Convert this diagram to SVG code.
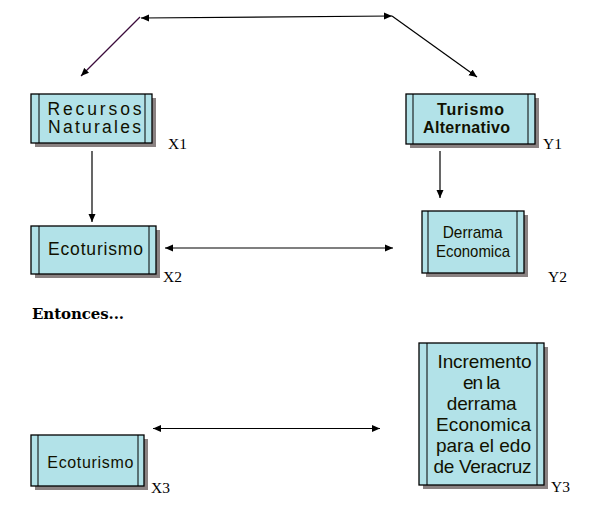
<svg xmlns="http://www.w3.org/2000/svg" width="605" height="517" viewBox="0 0 605 517">
<defs>
<marker id="ah" markerUnits="userSpaceOnUse" markerWidth="10" markerHeight="8" refX="8" refY="4" orient="auto-start-reverse"><path d="M0,0.5 L8,4 L0,7.5 z" fill="#000"/></marker>
</defs>
<style>
.box{fill:#b2e2e8;stroke:#000;stroke-width:1.3}
.shadow{fill:#8a8282}
.inner{stroke:#000;stroke-width:1}
.t{font-family:"Liberation Sans",Arial,sans-serif;fill:#111100;text-anchor:middle}
.lbl{font-family:"Liberation Serif","Times New Roman",serif;font-size:15.5px;fill:#000}
.conn{stroke:#000;stroke-width:1.2;fill:none}
</style>
<rect width="605" height="517" fill="#fff"/>
<g id="connectors">
<line class="conn" x1="141" y1="18" x2="392" y2="16" marker-start="url(#ah)" marker-end="url(#ah)"/>
<line class="conn" x1="140" y1="17" x2="81" y2="76" style="stroke:#3a0a3a" marker-end="url(#ah)"/>
<line class="conn" x1="392" y1="16" x2="477" y2="77" marker-end="url(#ah)"/>
<line class="conn" x1="92" y1="151" x2="92" y2="222" marker-end="url(#ah)"/>
<line class="conn" x1="440" y1="151" x2="440" y2="198" marker-end="url(#ah)"/>
<line class="conn" x1="165" y1="248" x2="393" y2="248" marker-start="url(#ah)" marker-end="url(#ah)"/>
<line class="conn" x1="153" y1="428.5" x2="380" y2="428.5" marker-start="url(#ah)" marker-end="url(#ah)"/>
</g>
<g id="X1">
<rect class="shadow" x="35" y="98" width="121" height="49"/>
<rect class="box" x="31" y="94" width="121" height="49"/>
<line class="inner" x1="39" y1="94" x2="39" y2="143"/>
<line class="inner" x1="145" y1="94" x2="145" y2="143"/>
<text class="t" x="94.5" y="114.5" font-size="17.5" textLength="94" lengthAdjust="spacing">Recursos</text>
<text class="t" x="94.5" y="133" font-size="17.5" textLength="93" lengthAdjust="spacing">Naturales</text>
<text class="lbl" x="168" y="149">X1</text>
</g>
<g id="Y1">
<rect class="shadow" x="410" y="98" width="129" height="50"/>
<rect class="box" x="406" y="94" width="129" height="50"/>
<line class="inner" x1="413" y1="94" x2="413" y2="144"/>
<line class="inner" x1="528" y1="94" x2="528" y2="144"/>
<text class="t" x="470.5" y="114.5" font-size="16" font-weight="bold" textLength="67" lengthAdjust="spacing">Turismo</text>
<text class="t" x="466.5" y="133" font-size="16" font-weight="bold" textLength="87" lengthAdjust="spacing">Alternativo</text>
<text class="lbl" x="543" y="149">Y1</text>
</g>
<g id="X2">
<rect class="shadow" x="35" y="230" width="125" height="48"/>
<rect class="box" x="31" y="226" width="125" height="48"/>
<line class="inner" x1="39" y1="226" x2="39" y2="274"/>
<line class="inner" x1="149" y1="226" x2="149" y2="274"/>
<text class="t" x="95.5" y="255" font-size="17.5" textLength="95" lengthAdjust="spacing">Ecoturismo</text>
<text class="lbl" x="163" y="282">X2</text>
</g>
<g id="Y2">
<rect class="shadow" x="426" y="215" width="102" height="62"/>
<rect class="box" x="422" y="211" width="102" height="62"/>
<line class="inner" x1="428" y1="211" x2="428" y2="273"/>
<line class="inner" x1="517" y1="211" x2="517" y2="273"/>
<text class="t" x="472.7" y="238" font-size="17" textLength="60" lengthAdjust="spacingAndGlyphs">Derrama</text>
<text class="t" x="473" y="257" font-size="17" textLength="74" lengthAdjust="spacingAndGlyphs">Economica</text>
<text class="lbl" x="548" y="282">Y2</text>
</g>
<text x="32" y="319" font-family="'DejaVu Serif','Liberation Serif',serif" font-weight="bold" font-size="15" textLength="92" lengthAdjust="spacing" fill="#000">Entonces...</text>
<g id="X3">
<rect class="shadow" x="35" y="439" width="113" height="51"/>
<rect class="box" x="31" y="435" width="113" height="51"/>
<line class="inner" x1="38" y1="435" x2="38" y2="486"/>
<line class="inner" x1="138" y1="435" x2="138" y2="486"/>
<text class="t" x="90.3" y="467.5" font-size="16" textLength="86" lengthAdjust="spacing">Ecoturismo</text>
<text class="lbl" x="151" y="493">X3</text>
</g>
<g id="Y3">
<rect class="shadow" x="423" y="347" width="125" height="142"/>
<rect class="box" x="419" y="343" width="125" height="142"/>
<line class="inner" x1="427" y1="343" x2="427" y2="485"/>
<line class="inner" x1="537" y1="343" x2="537" y2="485"/>
<text class="t" x="484.5" y="367.5" font-size="19" textLength="94" lengthAdjust="spacing">Incremento</text>
<text class="t" x="481.5" y="388.5" font-size="19" textLength="37" lengthAdjust="spacing">en la</text>
<text class="t" x="481.7" y="409.5" font-size="19" textLength="70" lengthAdjust="spacing">derrama</text>
<text class="t" x="483.5" y="430.5" font-size="19" textLength="95" lengthAdjust="spacing">Economica</text>
<text class="t" x="483.5" y="451.5" font-size="19" textLength="95" lengthAdjust="spacing">para el edo</text>
<text class="t" x="482.5" y="472.5" font-size="19" textLength="98" lengthAdjust="spacing">de Veracruz</text>
<text class="lbl" x="551" y="492">Y3</text>
</g>
</svg>
